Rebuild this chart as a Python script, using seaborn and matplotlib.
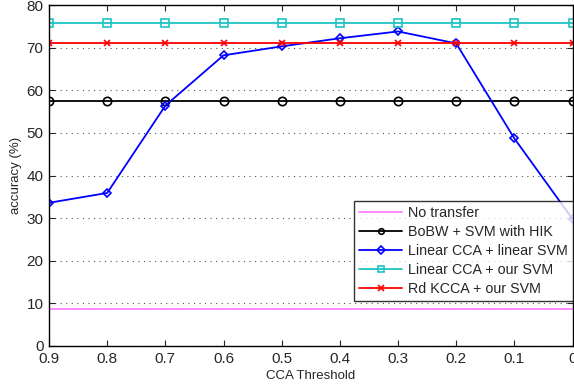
import pandas as pd
import matplotlib
matplotlib.use('Agg')
import matplotlib.pyplot as plt
import seaborn as sns

thresholds = [0.9, 0.8, 0.7, 0.6, 0.5, 0.4, 0.3, 0.2, 0.1, 0.0]
no_transfer = [8.6] * 10
bobw_hik = [57.5] * 10
linear_cca_linear_svm = [33.6, 35.9, 56.4, 68.2, 70.3, 72.2, 73.8, 71.0, 48.7, 29.8]
linear_cca_our_svm = [75.7] * 10
rd_kcca_our_svm = [71.1] * 10

series = [
    ('No transfer', no_transfer, '#ff7fff', None, 7),
    ('BoBW + SVM with HIK', bobw_hik, 'black', 'o', 6),
    ('Linear CCA + linear SVM', linear_cca_linear_svm, 'blue', 'D', 4.5),
    ('Linear CCA + our SVM', linear_cca_our_svm, '#1fc4c4', 's', 6),
    ('Rd KCCA + our SVM', rd_kcca_our_svm, 'red', 'x', 4),
]

sns.set_style('ticks')
plt.rcParams['font.family'] = ['Liberation Sans', 'DejaVu Sans']

fig = plt.figure(figsize=(5.74, 3.87), dpi=100)
ax = fig.add_axes([0.0854, 0.106, 0.912, 0.881])

for name, vals, color, marker, ms in series:
    df = pd.DataFrame({'x': thresholds, 'y': vals})
    sns.lineplot(data=df, x='x', y='y', ax=ax, color=color, marker=marker,
                 markersize=ms, markerfacecolor='none', markeredgecolor=color,
                 markeredgewidth=1.2, linewidth=1.3, label=name)

ax.set_xlim(0.9, 0.0)
ax.set_ylim(0, 80)
ax.set_xticks(thresholds)
ax.set_xticklabels(['0.9', '0.8', '0.7', '0.6', '0.5', '0.4', '0.3', '0.2', '0.1', '0'])
ax.set_yticks(range(0, 81, 10))
ax.yaxis.grid(True, linestyle=(0, (1, 4)), color='#555555', linewidth=0.8)
ax.tick_params(direction='in', top=True, right=True, labelsize=11, length=4, pad=4)
for sp in ax.spines.values():
    sp.set_visible(True)
    sp.set_linewidth(1.0)
    sp.set_color('black')
ax.set_xlabel('CCA Threshold', fontsize=9.5, labelpad=3)
ax.set_ylabel('accuracy (%)', fontsize=9.5, labelpad=3)

leg = ax.legend(loc='lower right', bbox_to_anchor=(1.0, 0.132), fontsize=10.3,
                frameon=True, fancybox=False, borderpad=0.35, labelspacing=0.35,
                handlelength=3.0, handletextpad=0.4, borderaxespad=0)
leg.get_frame().set_edgecolor('black')
leg.get_frame().set_linewidth(1.0)
for h in leg.legend_handles:
    h.set_markersize(4)

fig.savefig('out.png', dpi=100)
